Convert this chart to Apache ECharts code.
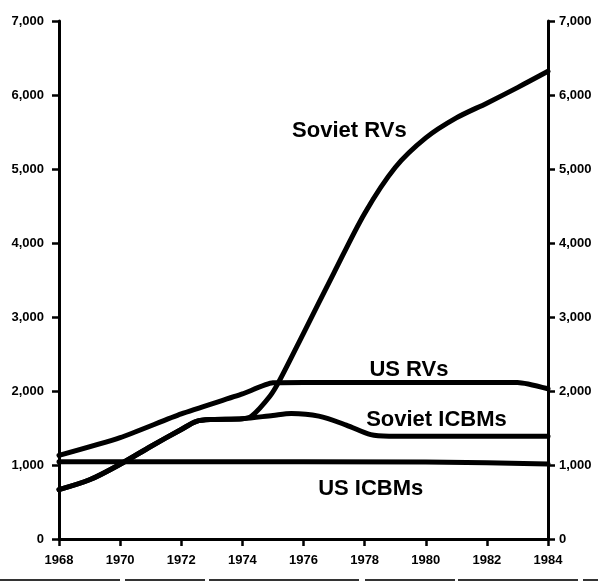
<!DOCTYPE html>
<html>
<head>
<meta charset="utf-8">
<script src="https://cdn.jsdelivr.net/npm/echarts@6/dist/echarts.min.js"></script>
<style>
  html, body { margin: 0; padding: 0; background: #fff; }
  #chart { width: 598px; height: 586px; }
</style>
</head>
<body>
<div id="chart"></div>
<script>
// values (year, count)
var sovietRvYears   = [1968, 1969, 1970, 1971, 1972, 1972.5, 1973, 1974, 1974.3, 1974.9, 1975.2, 1976, 1977, 1978, 1979, 1980, 1981, 1982, 1983, 1984];
var sovietRvValues  = [667, 800, 1010, 1250, 1480, 1590, 1615, 1625, 1660, 1930, 2130, 2780, 3600, 4400, 5020, 5420, 5690, 5890, 6100, 6320];

var usRvYears       = [1968, 1970, 1972, 1974, 1975, 1976, 1980, 1983, 1984];
var usRvValues      = [1130, 1370, 1690, 1960, 2110, 2115, 2115, 2115, 2030];

var sovietIcbmYears  = [1968, 1969, 1970, 1971, 1972, 1972.5, 1973, 1974, 1975, 1975.6, 1976.5, 1977.4, 1978.2, 1978.8, 1984];
var sovietIcbmValues = [667, 800, 1010, 1250, 1480, 1590, 1615, 1625, 1670, 1695, 1660, 1540, 1410, 1390, 1390];

var usIcbmYears     = [1968, 1976, 1980, 1982, 1984];
var usIcbmValues    = [1045, 1045, 1040, 1030, 1015];

var yTicks = [0, 1000, 2000, 3000, 4000, 5000, 6000, 7000];

// series labels: text and the data point they sit on
var labelTexts = ['Soviet RVs', 'US RVs', 'Soviet ICBMs', 'US ICBMs'];
var labelAt    = [[1977.5, 5510], [1979.45, 2290], [1980.35, 1610], [1978.2, 680]];

function pairs(xs, ys) {
  var out = [];
  for (var i = 0; i < xs.length; i++) out.push([xs[i], ys[i]]);
  return out;
}

function comma(v) {
  return String(v).replace(/\B(?=(\d{3})+(?!\d))/g, ',');
}

var tickFont = { color: '#000', fontFamily: 'Liberation Sans', fontWeight: 'bold', fontSize: 13 };

function yAxis(pos, margin) {
  return {
    type: 'value', position: pos, min: 0, max: 7000, interval: 1000,
    axisLine: { show: true, lineStyle: { color: '#000', width: 3 } },
    axisTick: { show: true, inside: false, length: 7, lineStyle: { color: '#000', width: 2.5 } },
    axisLabel: Object.assign({ margin: margin, formatter: function (v) { return comma(v); } }, tickFont),
    splitLine: { show: false }
  };
}

function line(name, xs, ys, smooth) {
  return {
    name: name, type: 'line', data: pairs(xs, ys), smooth: smooth,
    showSymbol: false, symbol: 'none', animation: false,
    lineStyle: { color: '#000', width: 5, cap: 'round', join: 'round' }
  };
}

var myChart = echarts.init(document.getElementById('chart'));

var option = {
  backgroundColor: '#fff',
  animation: false,
  grid: { left: 59, right: 50, top: 21, bottom: 47 },
  xAxis: {
    type: 'value', min: 1968, max: 1984, interval: 2,
    axisLine: { show: true, lineStyle: { color: '#000', width: 3 } },
    axisTick: { show: true, inside: false, length: 7, lineStyle: { color: '#000', width: 2.5 } },
    axisLabel: Object.assign({ margin: 15, formatter: function (v) { return String(v); } }, tickFont),
    splitLine: { show: false }
  },
  yAxis: [yAxis('left', 15), yAxis('right', 11)],
  series: [
    line('Soviet RVs', sovietRvYears, sovietRvValues, 0.3),
    line('US RVs', usRvYears, usRvValues, 0.2),
    line('Soviet ICBMs', sovietIcbmYears, sovietIcbmValues, 0.3),
    line('US ICBMs', usIcbmYears, usIcbmValues, false)
  ]
};

myChart.setOption(option);

// place the series names on the chart, anchored in data coordinates
var graphics = [];
for (var i = 0; i < labelTexts.length; i++) {
  var p = myChart.convertToPixel({ gridIndex: 0 }, labelAt[i]);
  graphics.push({
    type: 'text', x: p[0], y: p[1], z: 10,
    style: {
      text: labelTexts[i], fill: '#000',
      font: 'bold 22px "Liberation Sans"',
      align: 'center', verticalAlign: 'middle'
    }
  });
}
// scanner edge along the bottom of the page
graphics.push({
  type: 'line', shape: { x1: 0, y1: 580, x2: 598, y2: 580 },
  style: { stroke: '#333', lineWidth: 2, lineDash: [120, 5, 80, 4, 150, 6, 90, 3] }
});
myChart.setOption({ graphic: graphics });
</script>
</body>
</html>
